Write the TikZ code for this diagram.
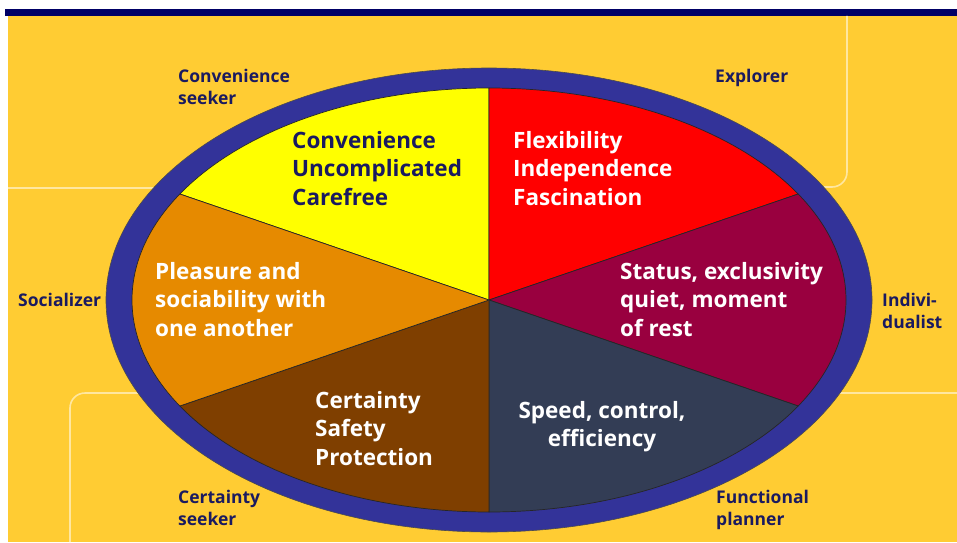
\documentclass[tikz,border=0pt]{standalone}
\usepackage{fontspec}
\setmainfont{Open Sans}
\definecolor{bgy}{HTML}{FFCC33}
\definecolor{barc}{HTML}{000066}
\definecolor{lightl}{HTML}{FFE7A0}
\definecolor{ringc}{HTML}{333399}
\definecolor{sy}{HTML}{FFFF00}
\definecolor{sr}{HTML}{FF0000}
\definecolor{sm}{HTML}{99003F}
\definecolor{ss}{HTML}{333D55}
\definecolor{sb}{HTML}{7F3F00}
\definecolor{so}{HTML}{E68A00}
\definecolor{navy}{HTML}{1A1A60}
\tikzset{
  inner/.style={font=\bfseries\fontsize{22.5}{28.5}\selectfont, inner sep=0pt, align=left, anchor=base west},
  outer/.style={font=\bfseries\fontsize{17.5}{22}\selectfont, text=navy, inner sep=0pt, align=left, anchor=base west},
  guide/.style={draw=lightl, line width=1.6pt},
  sector/.style={draw=black!85, line width=0.7pt, line join=round},
}
\begin{document}
\begin{tikzpicture}[x=1pt,y=1pt]
\useasboundingbox (0,0) rectangle (957,542);
\fill[white] (0,0) rectangle (957,542);
\fill[bgy] (8,0) rectangle (957,527);
\fill[barc] (5,526) rectangle (957,533);
% guide lines
\draw[guide] (8,354) -- (300,354);
\draw[guide] (847,526) -- (847,370) arc[start angle=0, end angle=-90, radius=15] -- (700,355);
\draw[guide] (70,0) -- (70,134) arc[start angle=180, end angle=90, radius=15] -- (300,149);
\draw[guide] (700,149) -- (957,149);
% ring
\coordinate (C) at (489,242);
\fill[ringc, draw=black!70, line width=0.6pt] (C) ellipse[x radius=383, y radius=232];
% sectors
\filldraw[sector, fill=sy] (C) -- ++(90:357 and 212) arc[start angle=90, end angle=150, x radius=357, y radius=212] -- cycle;
\filldraw[sector, fill=sr] (C) -- ++(30:357 and 212) arc[start angle=30, end angle=90, x radius=357, y radius=212] -- cycle;
\filldraw[sector, fill=sm] (C) -- ++(-30:357 and 212) arc[start angle=-30, end angle=30, x radius=357, y radius=212] -- cycle;
\filldraw[sector, fill=ss] (C) -- ++(-90:357 and 212) arc[start angle=-90, end angle=-30, x radius=357, y radius=212] -- cycle;
\filldraw[sector, fill=sb] (C) -- ++(210:357 and 212) arc[start angle=210, end angle=270, x radius=357, y radius=212] -- cycle;
\filldraw[sector, fill=so] (C) -- ++(150:357 and 212) arc[start angle=150, end angle=210, x radius=357, y radius=212] -- cycle;
% inner texts (anchor = baseline of last line)
\node[inner, text=navy] (ty) at (292,337) {Convenience\\Uncomplicated\\Carefree};
\node[inner, text=white] (tr) at (513,337) {Flexibility\\Independence\\Fascination};
\node[inner, text=white] (tm) at (620,206) {Status, exclusivity\\quiet, moment\\of rest};
\node[inner, text=white] (to) at (155,206) {Pleasure and\\sociability with\\one another};
\node[inner, text=white] (tb) at (315,77) {Certainty\\Safety\\Protection};
\node[inner, text=white, align=center, anchor=base] (ts) at (602,95.5) {Speed, control,\\efficiency};
% outer labels
\node[outer] (lcs) at (178,437.5) {Convenience\\seeker};
\node[outer] (lex) at (715,459.5) {Explorer};
\node[outer] (lso) at (18,235.5) {Socializer};
\node[outer] (lin) at (882,213.5) {Indivi-\\dualist};
\node[outer] (lce) at (178,16.5) {Certainty\\seeker};
\node[outer] (lfp) at (716,16.5) {Functional\\planner};
\end{tikzpicture}
\end{document}
